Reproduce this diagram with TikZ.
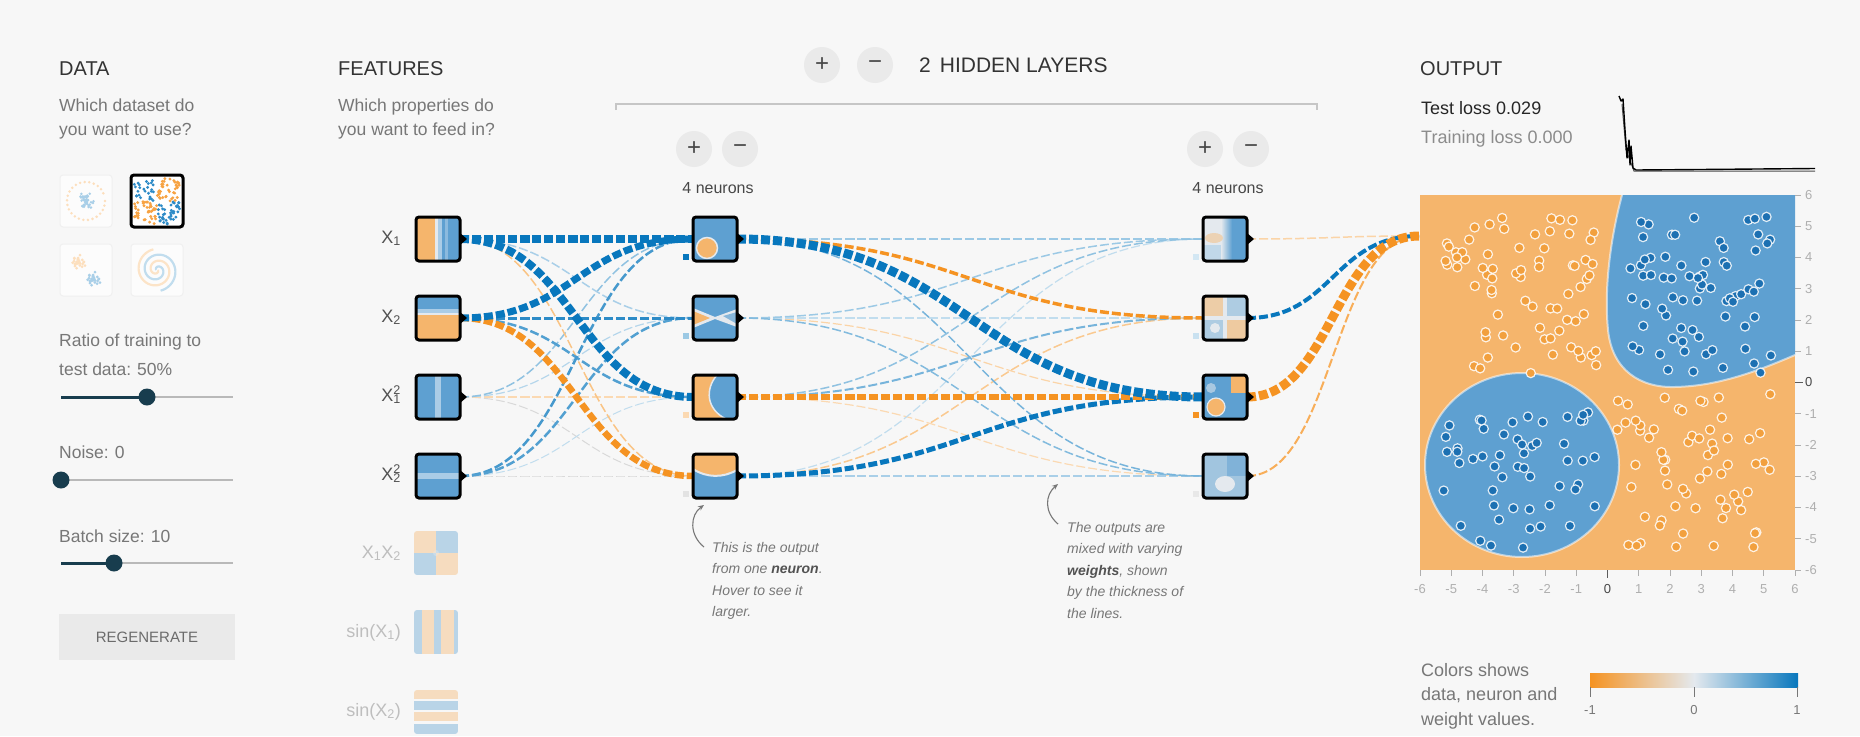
\documentclass[tikz,border=0pt]{standalone}
\usepackage{fontspec}
\setmainfont{Liberation Sans}
\usetikzlibrary{calc,arrows.meta}

\definecolor{bgc}{RGB}{247,247,247}
\definecolor{pblue}{RGB}{8,119,189}
\definecolor{porange}{RGB}{245,147,34}
\definecolor{hblue}{RGB}{94,160,209}
\definecolor{horange}{RGB}{245,181,108}
\definecolor{hlblue}{RGB}{170,204,230}
\definecolor{hpale}{RGB}{228,233,238}
\definecolor{navy}{RGB}{24,61,78}
\definecolor{hdrc}{RGB}{51,51,51}
\definecolor{subc}{RGB}{119,119,119}
\definecolor{btnc}{RGB}{234,234,234}
\definecolor{axc}{RGB}{175,175,175}
\definecolor{dotor}{RGB}{242,160,62}
\definecolor{dotbl}{RGB}{28,112,178}
\definecolor{fadec}{RGB}{190,190,190}

\pgfdeclarelayer{bg}
\pgfdeclarelayer{links}
\pgfsetlayers{bg,links,main}

\newcommand\fsz[2]{\fontsize{#1}{#2}\selectfont}

% ---------- tile interiors (local 0..44, y down) ----------
\newcommand\inXa{%
  \fill[hblue] (0,0) rectangle (44,44);
  \fill[horange] (0,0) rectangle (19,44);
  \fill[hpale] (19,0) rectangle (22,44);
  \fill[hlblue] (22,0) rectangle (26,44);
  \fill[hlblue!60!hblue] (29,0) rectangle (32,44);}
\newcommand\inXb{%
  \fill[horange] (0,0) rectangle (44,44);
  \fill[hblue] (0,0) rectangle (44,13);
  \fill[hlblue] (0,13) rectangle (44,17);
  \fill[hpale] (0,17) rectangle (44,19);}
\newcommand\inXc{%
  \fill[hblue] (0,0) rectangle (44,44);
  \fill[hlblue] (19,0) rectangle (25,44);}
\newcommand\inXd{%
  \fill[hblue] (0,0) rectangle (44,44);
  \fill[hlblue] (0,19) rectangle (44,25);}
\newcommand\inAa{%
  \fill[hblue] (0,0) rectangle (44,44);
  \filldraw[fill=horange, draw=hpale, line width=1.5pt] (14,31) circle (10.5);}
\newcommand\inAb{%
  \fill[hblue] (0,0) rectangle (44,44);
  \fill[hpale] (0,12) -- (22,21) -- (44,13) -- (44,31) -- (22,23) -- (0,32) -- cycle;
  \fill[hblue!70!hpale] (30,20) -- (44,16) -- (44,28) -- cycle;
  \fill[horange] (0,15) -- (17,22) -- (0,29) -- cycle;}
\newcommand\inAc{%
  \fill[horange] (0,0) rectangle (44,44);
  \fill[hblue] (24,0) .. controls (12,14) and (13,34) .. (33,44) -- (44,44) -- (44,0) -- cycle;
  \draw[hpale, line width=1.5pt] (24,0) .. controls (12,14) and (13,34) .. (33,44);}
\newcommand\inAd{%
  \fill[hblue] (0,0) rectangle (44,44);
  \fill[horange] (0,0) -- (44,0) -- (44,16) .. controls (30,24) and (14,24) .. (0,15) -- cycle;
  \draw[hpale, line width=2pt] (44,16) .. controls (30,24) and (14,24) .. (0,15);}
\newcommand\inBa{%
  \fill[hpale] (0,0) rectangle (44,44);
  \fill[hlblue!60!hpale] (0,28) rectangle (20,44);
  \shade[left color=hpale, right color=hblue] (18,0) rectangle (29,44);
  \fill[hblue] (29,0) rectangle (44,44);
  \fill[horange!45!hpale] (11,21) ellipse [x radius=9, y radius=5];}
\newcommand\inBb{%
  \fill[hpale] (0,0) rectangle (44,44);
  \fill[horange!55!hpale] (0,0) rectangle (20,20);
  \fill[hblue!40!hpale] (24,0) rectangle (44,20);
  \fill[hblue!40!hpale] (0,24) rectangle (20,44);
  \fill[horange!60!hpale] (24,24) rectangle (44,44);
  \fill[hpale] (12,32) circle (5);}
\newcommand\inBc{%
  \fill[hblue] (0,0) rectangle (44,44);
  \fill[horange] (28,0) rectangle (44,18);
  \fill[hblue!45!hpale] (8,13) circle (5);
  \filldraw[fill=horange, draw=hpale, line width=1.2pt] (13,32) circle (9);}
\newcommand\inBd{%
  \fill[hblue!50!hpale] (0,0) rectangle (44,44);
  \fill[hblue!75!hpale] (24,0) rectangle (44,22);
  \fill[hpale] (22,30) ellipse [x radius=10, y radius=8];}
\newcommand\inFa{\begin{scope}[opacity=0.4]
  \fill[horange] (0,0) rectangle (22,22);
  \fill[hblue] (22,0) rectangle (44,22);
  \fill[hblue] (0,22) rectangle (22,44);
  \fill[horange] (22,22) rectangle (44,44);
  \fill[hpale] (22,22) circle (3);\end{scope}}
\newcommand\inFb{\begin{scope}[opacity=0.4]
  \fill[hblue] (0,0) rectangle (8,44);
  \fill[horange] (8,0) rectangle (20,44);
  \fill[hblue] (20,0) rectangle (27,44);
  \fill[horange] (27,0) rectangle (40,44);
  \fill[hblue] (40,0) rectangle (44,44);\end{scope}}
\newcommand\inFc{\begin{scope}[opacity=0.4]
  \fill[horange] (0,0) rectangle (44,9);
  \fill[hblue] (0,11) rectangle (44,20);
  \fill[horange] (0,22) rectangle (44,31);
  \fill[hblue] (0,34) rectangle (44,44);\end{scope}}

% ---------- dataset thumbnails (local 0..52) ----------
\newcommand\inTa{%
  \fill[white!60!bgc] (0,0) rectangle (52,52);
  \foreach \a in {0,14,...,346}{\fill[porange!30] ({26+19*cos(\a)},{26+19*sin(\a)}) circle (1.4);}
  \pgfmathsetseed{11}%
  \foreach \i in {1,...,45}{\pgfmathsetmacro\qa{360*rnd}\pgfmathsetmacro\qr{9*rnd}%
    \fill[pblue!35] ({26+\qr*cos(\qa)},{26+\qr*sin(\qa)}) circle (1.4);}}
\newcommand\inTb{%
  \fill[white] (0,0) rectangle (52,52);
  \pgfmathsetseed{77}%
  \foreach \i in {1,...,150}{\pgfmathsetmacro\qx{23*rand}\pgfmathsetmacro\qy{23*rand}%
    \pgfmathtruncatemacro\qb{(\qx*\qy>0)?1:0}%
    \ifnum\qb=1\relax\fill[pblue!85] ({26+\qx},{26+\qy}) circle (1.6);\else\fill[porange!85] ({26+\qx},{26+\qy}) circle (1.6);\fi}}
\newcommand\inTc{%
  \fill[white!60!bgc] (0,0) rectangle (52,52);
  \pgfmathsetseed{5}%
  \foreach \i in {1,...,30}{\pgfmathsetmacro\qa{360*rnd}\pgfmathsetmacro\qr{7*rnd}%
    \fill[porange!30] ({19+\qr*cos(\qa)},{18+\qr*sin(\qa)}) circle (1.5);
    \fill[pblue!35] ({34+\qr*cos(\qa)},{35+\qr*sin(\qa)}) circle (1.5);}}
\newcommand\inTd{%
  \fill[white!60!bgc] (0,0) rectangle (52,52);
  \draw[porange!25, line width=2.2pt] plot[domain=20:620, samples=80] ({26+\x/620*21*cos(\x)}, {26+\x/620*21*sin(\x)});
  \draw[pblue!25, line width=2.2pt] plot[domain=20:620, samples=80] ({26-\x/620*21*cos(\x)}, {26-\x/620*21*sin(\x)});}

% tile placement: name, x, y, interior, style
\newcommand\tileat[5]{%
  \begin{scope}[shift={(#2-22,#3-22)}]\clip[rounded corners=3pt] (0,0) rectangle (44,44); #4\end{scope}
  \node[#5] (#1) at (#2,#3) {};}
\newcommand\thumbat[4]{%
  \begin{scope}[shift={(#2-26,#3-26)}]\clip[rounded corners=3pt] (0,0) rectangle (52,52); #4\end{scope}}

\newcommand\lnk[5]{\draw[link, draw=#3, line width=#4pt] (#1.east) .. controls +(#5,0) and +(-#5,0) .. (#2.west);}
\newcommand\lnkout[3]{\draw[link, draw=#2, line width=#3pt] (#1.east) .. controls +(86,0) and +(-86,0) .. (outin);}

\tikzset{
 tile/.style={draw=black, line width=3pt, rounded corners=3pt, minimum size=44pt, inner sep=0pt, outer sep=0pt},
 ftile/.style={draw=none, minimum size=44pt, inner sep=0pt},
 thumb/.style={rounded corners=3pt, minimum size=52pt, inner sep=0pt},
 link/.style={dash pattern=on 9pt off 3pt},
 pmbtn/.style={circle, fill=btnc, minimum size=36pt, inner sep=0pt, text=hdrc!90, font=\fsz{24}{24}},
 hdr/.style={anchor=base west, inner sep=0pt, text=hdrc, font=\fsz{20}{24}},
 subt/.style={anchor=base west, inner sep=0pt, text=subc, font=\fsz{17.5}{22}},
 flab/.style={anchor=base east, inner sep=0pt, text=hdrc!85, font=\fsz{18}{20}},
 fflab/.style={flab, text=fadec},
 axl/.style={inner sep=0pt, text=axc, font=\fsz{13}{14}},
 ann/.style={anchor=north west, align=left, inner sep=0pt, text=subc, font=\fsz{14}{21.5}\itshape},
 annarrow/.style={draw=subc, line width=1.1pt, -{Stealth[length=6pt,width=5pt]}},
 neur/.style={anchor=base, inner sep=0pt, text=hdrc!90, font=\fsz{16}{18}},
}

\begin{document}
\begin{tikzpicture}[x=1pt, y=-1pt]
\begin{pgfonlayer}{bg}
\fill[bgc] (0,0) rectangle (1860,736);
\end{pgfonlayer}
\useasboundingbox (0,0) rectangle (1860,736);

% ================= DATA =================
\node[hdr] (tData) at (59,75) {DATA};
\node[subt] (tData1) at (59,111) {Which dataset do};
\node[subt] (tData2) at (59,135) {you want to use?};
\thumbat{th1}{86}{201}{\inTa}
\node[thumb, draw=gray!12, line width=1pt] (th1) at (86,201) {};
\thumbat{th2}{157}{201}{\inTb}
\node[thumb, draw=black, line width=3pt] (th2) at (157,201) {};
\thumbat{th3}{86}{270}{\inTc}
\node[thumb, draw=gray!12, line width=1pt] (th3) at (86,270) {};
\thumbat{th4}{157}{270}{\inTd}
\node[thumb, draw=gray!12, line width=1pt] (th4) at (157,270) {};

\node[subt] (tRatio1) at (59,346) {Ratio of training to};
\node[subt] (tRatio2) at (59,375) {test data:\hspace{6pt}50\%};
\draw[gray!55, line width=1.6pt] (61,397) -- (233,397);
\draw[navy, line width=3pt] (61,397) -- (147,397);
\fill[navy] (147,397) circle (8.5);

\node[subt] (tNoise) at (59,458) {Noise:\hspace{6pt}0};
\draw[gray!55, line width=1.6pt] (61,480) -- (233,480);
\fill[navy] (61,480) circle (8.5);

\node[subt] (tBatch) at (59,542) {Batch size:\hspace{6pt}10};
\draw[gray!55, line width=1.6pt] (61,563) -- (233,563);
\draw[navy, line width=3pt] (61,563) -- (114,563);
\fill[navy] (114,563) circle (8.5);

\fill[btnc] (59,614) rectangle (235,660);
\node[inner sep=0pt, text=subc!90!black, font=\fsz{15}{16}] (tRegen) at (147,637) {REGENERATE};

% ================= FEATURES =================
\node[hdr] (tFeat) at (338,75) {FEATURES};
\node[subt] (tFeat1) at (338,111) {Which properties do};
\node[subt] (tFeat2) at (338,135) {you want to feed in?};

\tileat{f1}{438}{239}{\inXa}{tile}
\tileat{f2}{438}{318}{\inXb}{tile}
\tileat{f3}{438}{397}{\inXc}{tile}
\tileat{f4}{438}{476}{\inXd}{tile}
\node[flab] (lf1) at (401,243) {X\textsubscript{1}};
\node[flab] (lf2) at (401,322) {X\textsubscript{2}};
\node[flab] (lf3) at (401,401) {X\rlap{\textsubscript{1}}\textsuperscript{2}};
\node[flab] (lf4) at (401,480) {X\rlap{\textsubscript{2}}\textsuperscript{2}};

\tileat{g1}{436}{553}{\inFa}{ftile}
\tileat{g2}{436}{632}{\inFb}{ftile}
\tileat{g3}{436}{712}{\inFc}{ftile}
\node[fflab] (lg1) at (401,558) {X\textsubscript{1}X\textsubscript{2}};
\node[fflab] (lg2) at (401,637) {sin(X\textsubscript{1})};
\node[fflab] (lg3) at (401,716) {sin(X\textsubscript{2})};

% ================= HIDDEN LAYERS =================
\node[pmbtn] (hplus) at (822,65) {+};
\node[pmbtn] (hminus) at (875,65) {−};
\node[anchor=base west, inner sep=0pt, text=hdrc, font=\fsz{21}{24}] (tHid) at (919,72) {2\hspace{9pt}HIDDEN LAYERS};
\draw[gray!45, line width=1.3pt] (616,110) -- (616,104) -- (1317,104) -- (1317,110);

\node[pmbtn] (p1) at (694,149) {+};
\node[pmbtn] (m1) at (740,149) {−};
\node[neur] (n1) at (718,193) {4 neurons};
\node[pmbtn] (p2) at (1205,149) {+};
\node[pmbtn] (m2) at (1251,149) {−};
\node[neur] (n2) at (1228,193) {4 neurons};

\tileat{a1}{715}{239}{\inAa}{tile}
\tileat{a2}{715}{318}{\inAb}{tile}
\tileat{a3}{715}{397}{\inAc}{tile}
\tileat{a4}{715}{476}{\inAd}{tile}
\tileat{b1}{1225}{239}{\inBa}{tile}
\tileat{b2}{1225}{318}{\inBb}{tile}
\tileat{b3}{1225}{397}{\inBc}{tile}
\tileat{b4}{1225}{476}{\inBd}{tile}

\foreach \n in {f1,f2,f3,f4,a1,a2,a3,a4,b1,b2,b3,b4}{
  \fill[black] ($(\n.east)+(0,-6)$) -- ++(7,6) -- ++(-7,6) -- cycle;}

% bias squares
\fill[pblue] ($(a1.south west)+(-10,-7)$) rectangle +(6,6);
\fill[pblue!40] ($(a2.south west)+(-10,-7)$) rectangle +(6,6);
\fill[porange!35] ($(a3.south west)+(-10,-7)$) rectangle +(6,6);
\fill[gray!22] ($(a4.south west)+(-10,-7)$) rectangle +(6,6);
\fill[pblue!18] ($(b1.south west)+(-10,-7)$) rectangle +(6,6);
\fill[pblue!22] ($(b2.south west)+(-10,-7)$) rectangle +(6,6);
\fill[porange] ($(b3.south west)+(-10,-7)$) rectangle +(6,6);
\fill[gray!18] ($(b4.south west)+(-10,-7)$) rectangle +(6,6);

\coordinate (outin) at (1419,236);

\begin{pgfonlayer}{links}
% features -> hidden 1
\lnk{f4}{a4}{gray!30}{1}{115}
\lnk{f3}{a4}{gray!30}{1}{115}
\lnk{f4}{a3}{pblue!25}{1}{115}
\lnk{f3}{a3}{porange!35}{1.2}{115}
\lnk{f3}{a2}{pblue!30}{1.2}{115}
\lnk{f3}{a1}{pblue!45}{1.5}{115}
\lnk{f1}{a2}{pblue!35}{1.5}{115}
\lnk{f1}{a4}{porange!55}{1.5}{115}
\lnk{f2}{a3}{pblue!70}{2.5}{115}
\lnk{f4}{a1}{pblue!75}{2.5}{115}
\lnk{f4}{a2}{pblue!70}{2.5}{115}
\lnk{f2}{a2}{pblue!85}{3}{115}
\lnk{f2}{a4}{porange}{6.5}{115}
\lnk{f2}{a1}{pblue}{7}{115}
\lnk{f1}{a3}{pblue}{8}{115}
\lnk{f1}{a1}{pblue}{8}{115}
% hidden 1 -> hidden 2
\lnk{a2}{b3}{porange!40}{1.2}{232}
\lnk{a3}{b4}{porange!35}{1.2}{232}
\lnk{a4}{b1}{pblue!25}{1.2}{232}
\lnk{a2}{b2}{pblue!25}{1.5}{232}
\lnk{a1}{b1}{pblue!40}{1.5}{232}
\lnk{a2}{b1}{pblue!40}{1.5}{232}
\lnk{a4}{b2}{porange!50}{1.5}{232}
\lnk{a4}{b4}{pblue!35}{1.5}{232}
\lnk{a2}{b4}{pblue!50}{1.5}{232}
\lnk{a1}{b4}{pblue!55}{1.5}{232}
\lnk{a3}{b1}{pblue!45}{1.5}{232}
\lnk{a3}{b2}{pblue!55}{2}{232}
\lnk{a1}{b2}{porange}{3.5}{232}
\lnk{a4}{b3}{pblue}{5}{232}
\lnk{a3}{b3}{porange}{6}{232}
\lnk{a1}{b3}{pblue}{9}{232}
% hidden 2 -> output
\lnkout{b1}{porange!40}{1.5}
\lnkout{b4}{porange!75}{2}
\lnkout{b2}{pblue}{4}
\lnkout{b3}{porange}{9}
\end{pgfonlayer}

% annotations
\node[ann] (ann1) at (712,542) {This is the output\\from one {\bfseries\color{hdrc!85}neuron}.\\Hover to see it\\larger.};
\coordinate (ann1s) at (704,547);
\coordinate (ann1e) at (704,505);
\draw[annarrow] (ann1s) .. controls (689,535) and (690,515) .. (ann1e);
\node[ann] (ann2) at (1067,522) {The outputs are\\mixed with varying\\{\bfseries\color{hdrc!85}weights}, shown\\by the thickness of\\the lines.};
\coordinate (ann2s) at (1058,524);
\coordinate (ann2e) at (1058,484);
\draw[annarrow] (ann2s) .. controls (1044,512) and (1045,495) .. (ann2e);

% ================= OUTPUT =================
\node[hdr] (tOut) at (1420,75) {OUTPUT};
\node[anchor=base west, inner sep=0pt, text=black!85, font=\fsz{18}{20}] (tTest) at (1421,114) {Test loss 0.029};
\node[anchor=base west, inner sep=0pt, text=black!45, font=\fsz{18}{20}] (tTrain) at (1421,143) {Training loss 0.000};
\draw[black!70, line width=1pt] (1622,104) -- (1626,150) -- (1634,171) -- (1815,171);
\draw[black, line width=1.4pt, line join=round] (1619,96) -- (1621,101) -- (1623,99) -- (1625,130) -- (1627,158) -- (1629,140) -- (1630,165) -- (1631,146) -- (1633,168) -- (1636,170) -- (1700,169.5) -- (1815,168.5);

\begin{scope}
\clip (1420,195) rectangle (1795,570);
\fill[horange] (1420,195) rectangle (1795,570);
\fill[hblue] (1622,195) .. controls (1610,240) and (1604,290) .. (1608,330) .. controls (1612,370) and (1640,388) .. (1675,387) .. controls (1720,386) and (1760,370) .. (1795,355) -- (1795,195) -- cycle;
\draw[white, opacity=0.55, line width=2pt] (1622,195) .. controls (1610,240) and (1604,290) .. (1608,330) .. controls (1612,370) and (1640,388) .. (1675,387) .. controls (1720,386) and (1760,370) .. (1795,355);
\filldraw[fill=hblue, draw=white, draw opacity=0.55, line width=2pt] (1522,465) ellipse [x radius=97, y radius=92];
\pgfmathsetseed{1234}
\foreach \i in {1,...,270}{%
  \pgfmathsetmacro\ux{5*rand}%
  \pgfmathsetmacro\uy{5*rand}%
  \pgfmathsetmacro\px{\ux+0.3*sign(\ux)}%
  \pgfmathsetmacro\py{\uy+0.3*sign(\uy)}%
  \pgfmathtruncatemacro\isb{(\px*\py>0)?1:0}%
  \pgfmathtruncatemacro\keep{((\px<0)&&(\py<0)&&((\px+2.75)*(\px+2.75)+(\py+2.65)*(\py+2.65)>7.8))?0:1}%
  \ifnum\keep=1\relax
    \ifnum\isb=1\relax
      \filldraw[fill=dotbl, draw=white, draw opacity=0.85, line width=1.2pt] ({1607.5+31.25*\px},{382.5-31.25*\py}) circle (4.6);
    \else
      \filldraw[fill=dotor, draw=white, draw opacity=0.85, line width=1.2pt] ({1607.5+31.25*\px},{382.5-31.25*\py}) circle (4.6);
    \fi
  \fi}
\end{scope}

% axes
\foreach \v in {-6,...,6}{
  \pgfmathsetmacro\ax{1607.5+31.25*\v}
  \pgfmathsetmacro\ay{382.5-31.25*\v}
  \draw[axc, line width=0.8pt] (\ax,570) -- (\ax,576);
  \draw[axc, line width=0.8pt] (1795,\ay) -- (1801,\ay);
  \node[axl] at (\ax,589) {\v};
  \node[axl, anchor=west] at (1805,\ay) {\v};
}
\draw[hdrc!80, line width=1pt] (1607.5,570) -- (1607.5,578);
\draw[hdrc!80, line width=1pt] (1795,382.5) -- (1803,382.5);
\node[axl, text=hdrc!90, fill=bgc] (ax0) at (1607.5,589) {0};
\node[axl, text=hdrc!90, fill=bgc, anchor=west] (ay0) at (1805,382.5) {0};

% legend
\node[anchor=north west, align=left, inner sep=0pt, text=subc, font=\fsz{18}{24.5}] (tLeg) at (1421,663) {Colors shows\\data, neuron and\\weight values.};
\shade[left color=porange, right color=pblue, middle color=hpale] (1590,673) rectangle (1798,687);
\foreach \lx/\lv in {1590/-1,1694/0,1797/1}{
  \draw[subc, line width=1pt] (\lx,687) -- (\lx,697);
  \node[axl, text=subc] at (\lx,710) {\lv};
}
\end{tikzpicture}
\end{document}
